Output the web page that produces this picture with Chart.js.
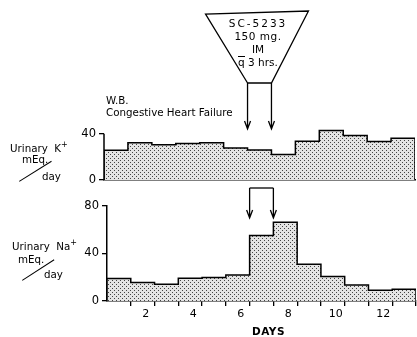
<!DOCTYPE html>
<html>
<head>
<meta charset="utf-8">
<script src="https://cdn.jsdelivr.net/npm/chart.js@4"></script>
<style>
  body { margin: 0; background: #fff; }
  #wrap { position: relative; width: 417px; height: 337px; overflow: hidden; font-family: "DejaVu Sans", sans-serif; color: #000; }
  #topBox { position: absolute; left: 0; top: 0; width: 417px; height: 190px; }
  #bottomBox { position: absolute; left: 0; top: 180px; width: 417px; height: 157px; }
  .txt { position: absolute; white-space: nowrap; font-size: 10.3px; line-height: 12px; }
  .sup { font-size: 8px; vertical-align: 5px; }
  .slash { position: absolute; height: 0; border-top: 1.3px solid #000; transform-origin: 0 0; }
  #funnelText { position: absolute; left: 208px; top: 17px; width: 100px; text-align: center; font-size: 10.5px; line-height: 13px; }
  .bar { display: inline-block; border-top: 1px solid #000; line-height: 9px; padding-top: 1px; }
</style>
</head>
<body>
<div id="wrap">
  <div id="topBox"><canvas id="topChart"></canvas></div>
  <div id="bottomBox"><canvas id="bottomChart"></canvas></div>

  <div id="funnelText">
    <div style="letter-spacing:2px">SC-5233</div>
    <div style="letter-spacing:0.5px">150 mg.</div>
    <div>IM</div>
    <div><span class="bar">q</span> 3 hrs.</div>
  </div>

  <div class="txt" style="left:106px; top:94px;">W.B.</div>
  <div class="txt" style="left:106px; top:106px;">Congestive Heart Failure</div>

  <div class="txt" style="left:10px; top:139px;">Urinary&nbsp; K<span class="sup">+</span></div>
  <div class="txt" style="left:22px; top:153px;">mEq.</div>
  <div class="txt" style="left:42px; top:170px;">day</div>
  <div class="slash" style="left:19px; top:181px; width:38px; transform:rotate(-32deg);"></div>

  <div class="txt" style="left:12px; top:237px;">Urinary&nbsp; Na<span class="sup">+</span></div>
  <div class="txt" style="left:18px; top:253px;">mEq.</div>
  <div class="txt" style="left:44px; top:268px;">day</div>
  <div class="slash" style="left:22px; top:280px; width:38px; transform:rotate(-33deg);"></div>

  <div class="txt" style="left:252px; top:325px; font-weight:bold; font-size:10.5px; letter-spacing:0.5px;">DAYS</div>
</div>

<script>
const days = [1, 2, 3, 4, 5, 6, 7, 8, 9, 10, 11, 12, 13];
const potassium = [25.7, 32.2, 30.5, 31.6, 32.2, 27.7, 26.0, 22.1, 33.6, 42.8, 38.6, 33.3, 36.1];
const sodium = [18.9, 15.5, 14.1, 19.2, 19.7, 22.0, 55.2, 66.4, 31.0, 20.6, 13.5, 9.0, 9.8];
const potassiumTicks = [0, 40];
const sodiumTicks = [0, 40, 80];
const doseMarks = [6.5, 7.5];

const FONT = {family: 'DejaVu Sans', size: 11};

// stipple fill like the old print
function makeStipple() {
    const c = document.createElement('canvas');
    c.width = 4;
    c.height = 4;
    const g = c.getContext('2d');
    g.fillStyle = '#e4e4e4';
    g.fillRect(0, 0, 4, 4);
    g.fillStyle = '#444';
    g.fillRect(0, 0, 1, 1);
    g.fillRect(2, 2, 1, 1);
    return g.createPattern(c, 'repeat');
}
const stipple = makeStipple();

// outline of the bars as one stepped path, bar edges half a day each side
function stepPoints(values) {
    const last = days.length - 1;
    const pts = [{x: days[0] - 0.5, y: 0}];
    values.forEach((v, i) => pts.push({x: days[i] - 0.5, y: v}));
    pts.push({x: days[last] + 0.5, y: values[last]});
    pts.push({x: days[last] + 0.5, y: 0});
    return pts;
}

function dataset(values) {
    return {
        data: stepPoints(values),
        stepped: true,
        fill: 'origin',
        backgroundColor: stipple,
        borderColor: '#000',
        borderWidth: 1.5,
        pointRadius: 0,
        xAxisID: 'x',
        yAxisID: 'y'
    };
}

function arrow(ctx, x, y0, y1) {
    ctx.beginPath();
    ctx.moveTo(x, y0);
    ctx.lineTo(x, y1);
    ctx.moveTo(x - 3, y1 - 8);
    ctx.lineTo(x, y1);
    ctx.lineTo(x + 3, y1 - 8);
    ctx.stroke();
}

const topDecor = {
    id: 'topDecor',
    afterDraw(chart) {
        const ctx = chart.ctx;
        const x = chart.scales.x;
        const y = chart.scales.y;
        const left = chart.chartArea.left;
        ctx.save();
        ctx.strokeStyle = '#000';
        ctx.lineWidth = 1.5;
        ctx.beginPath();
        ctx.moveTo(left, y.getPixelForValue(0));
        ctx.lineTo(left, y.getPixelForValue(potassiumTicks[1]));
        ctx.stroke();

        const xs = x.getPixelForValue(doseMarks[0]);
        const xe = x.getPixelForValue(doseMarks[1]);
        ctx.lineWidth = 1.3;
        ctx.beginPath();
        ctx.moveTo(xs, 83);
        ctx.lineTo(xs - 42, 14);
        ctx.lineTo(xe + 37, 11);
        ctx.lineTo(xe, 83);
        ctx.closePath();
        ctx.stroke();
        arrow(ctx, xs, 83, 129);
        arrow(ctx, xe, 83, 129);
        ctx.restore();
    }
};

const bottomDecor = {
    id: 'bottomDecor',
    afterDraw(chart) {
        const ctx = chart.ctx;
        const x = chart.scales.x;
        const xs = x.getPixelForValue(doseMarks[0]);
        const xe = x.getPixelForValue(doseMarks[1]);
        ctx.save();
        ctx.strokeStyle = '#000';
        ctx.lineWidth = 1.3;
        ctx.beginPath();
        ctx.moveTo(xs, 8);
        ctx.lineTo(xe, 8);
        ctx.stroke();
        arrow(ctx, xs, 8, 38);
        arrow(ctx, xe, 8, 38);
        ctx.restore();
    }
};

Chart.defaults.font = FONT;
Chart.defaults.color = '#000';

new Chart(document.getElementById('topChart'), {
    type: 'line',
    data: {datasets: [dataset(potassium)]},
    plugins: [topDecor],
    options: {
        responsive: true,
        maintainAspectRatio: false,
        animation: false,
        layout: {padding: {top: 128, right: 2, bottom: 8, left: 0}},
        plugins: {legend: {display: false}, tooltip: {enabled: false}},
        scales: {
            x: {
                type: 'linear',
                min: days[0] - 0.5,
                max: days[days.length - 1] + 0.5,
                ticks: {display: false},
                grid: {display: false, drawTicks: false},
                border: {display: true, color: '#000', width: 1.5}
            },
            y: {
                min: 0,
                max: 45,
                afterBuildTicks: (scale) => { scale.ticks = potassiumTicks.map(v => ({value: v})); },
                afterFit: (scale) => { scale.width = 104; },
                ticks: {padding: 3, color: '#000', font: {size: 11.5}},
                grid: {drawOnChartArea: false, drawTicks: true, tickLength: 5, color: '#000', lineWidth: 1.3},
                border: {display: false}
            }
        }
    }
});

new Chart(document.getElementById('bottomChart'), {
    type: 'line',
    data: {labels: days, datasets: [dataset(sodium)]},
    plugins: [bottomDecor],
    options: {
        responsive: true,
        maintainAspectRatio: false,
        animation: false,
        layout: {padding: {top: 26, right: 1, bottom: 0, left: 0}},
        plugins: {legend: {display: false}, tooltip: {enabled: false}},
        scales: {
            x: {
                type: 'linear',
                display: false,
                min: days[0] - 0.5,
                max: days[days.length - 1] + 0.5
            },
            xd: {
                type: 'category',
                axis: 'x',
                position: 'bottom',
                offset: true,
                afterFit: (scale) => { scale.height = 36; },
                ticks: {
                    autoSkip: false,
                    maxRotation: 0,
                    padding: 2,
                    labelOffset: 3,
                    font: {size: 11},
                    callback: (val, i) => (days[i] % 2 === 0 ? String(days[i]) : '')
                },
                grid: {
                    offset: true,
                    drawOnChartArea: false,
                    tickLength: 5,
                    lineWidth: 1.3,
                    tickColor: (c) => (c.index === 0 || c.index >= days.length ? 'rgba(0,0,0,0)' : '#000')
                },
                border: {display: true, color: '#000', width: 1.5}
            },
            y: {
                min: sodiumTicks[0],
                max: sodiumTicks[sodiumTicks.length - 1],
                afterBuildTicks: (scale) => { scale.ticks = sodiumTicks.map(v => ({value: v})); },
                afterFit: (scale) => { scale.width = 107; },
                ticks: {padding: 3, font: {size: 11.5}},
                grid: {drawOnChartArea: false, drawTicks: true, tickLength: 5, color: '#000', lineWidth: 1.3},
                border: {display: true, color: '#000', width: 1.5}
            }
        }
    }
});
</script>
</body>
</html>
